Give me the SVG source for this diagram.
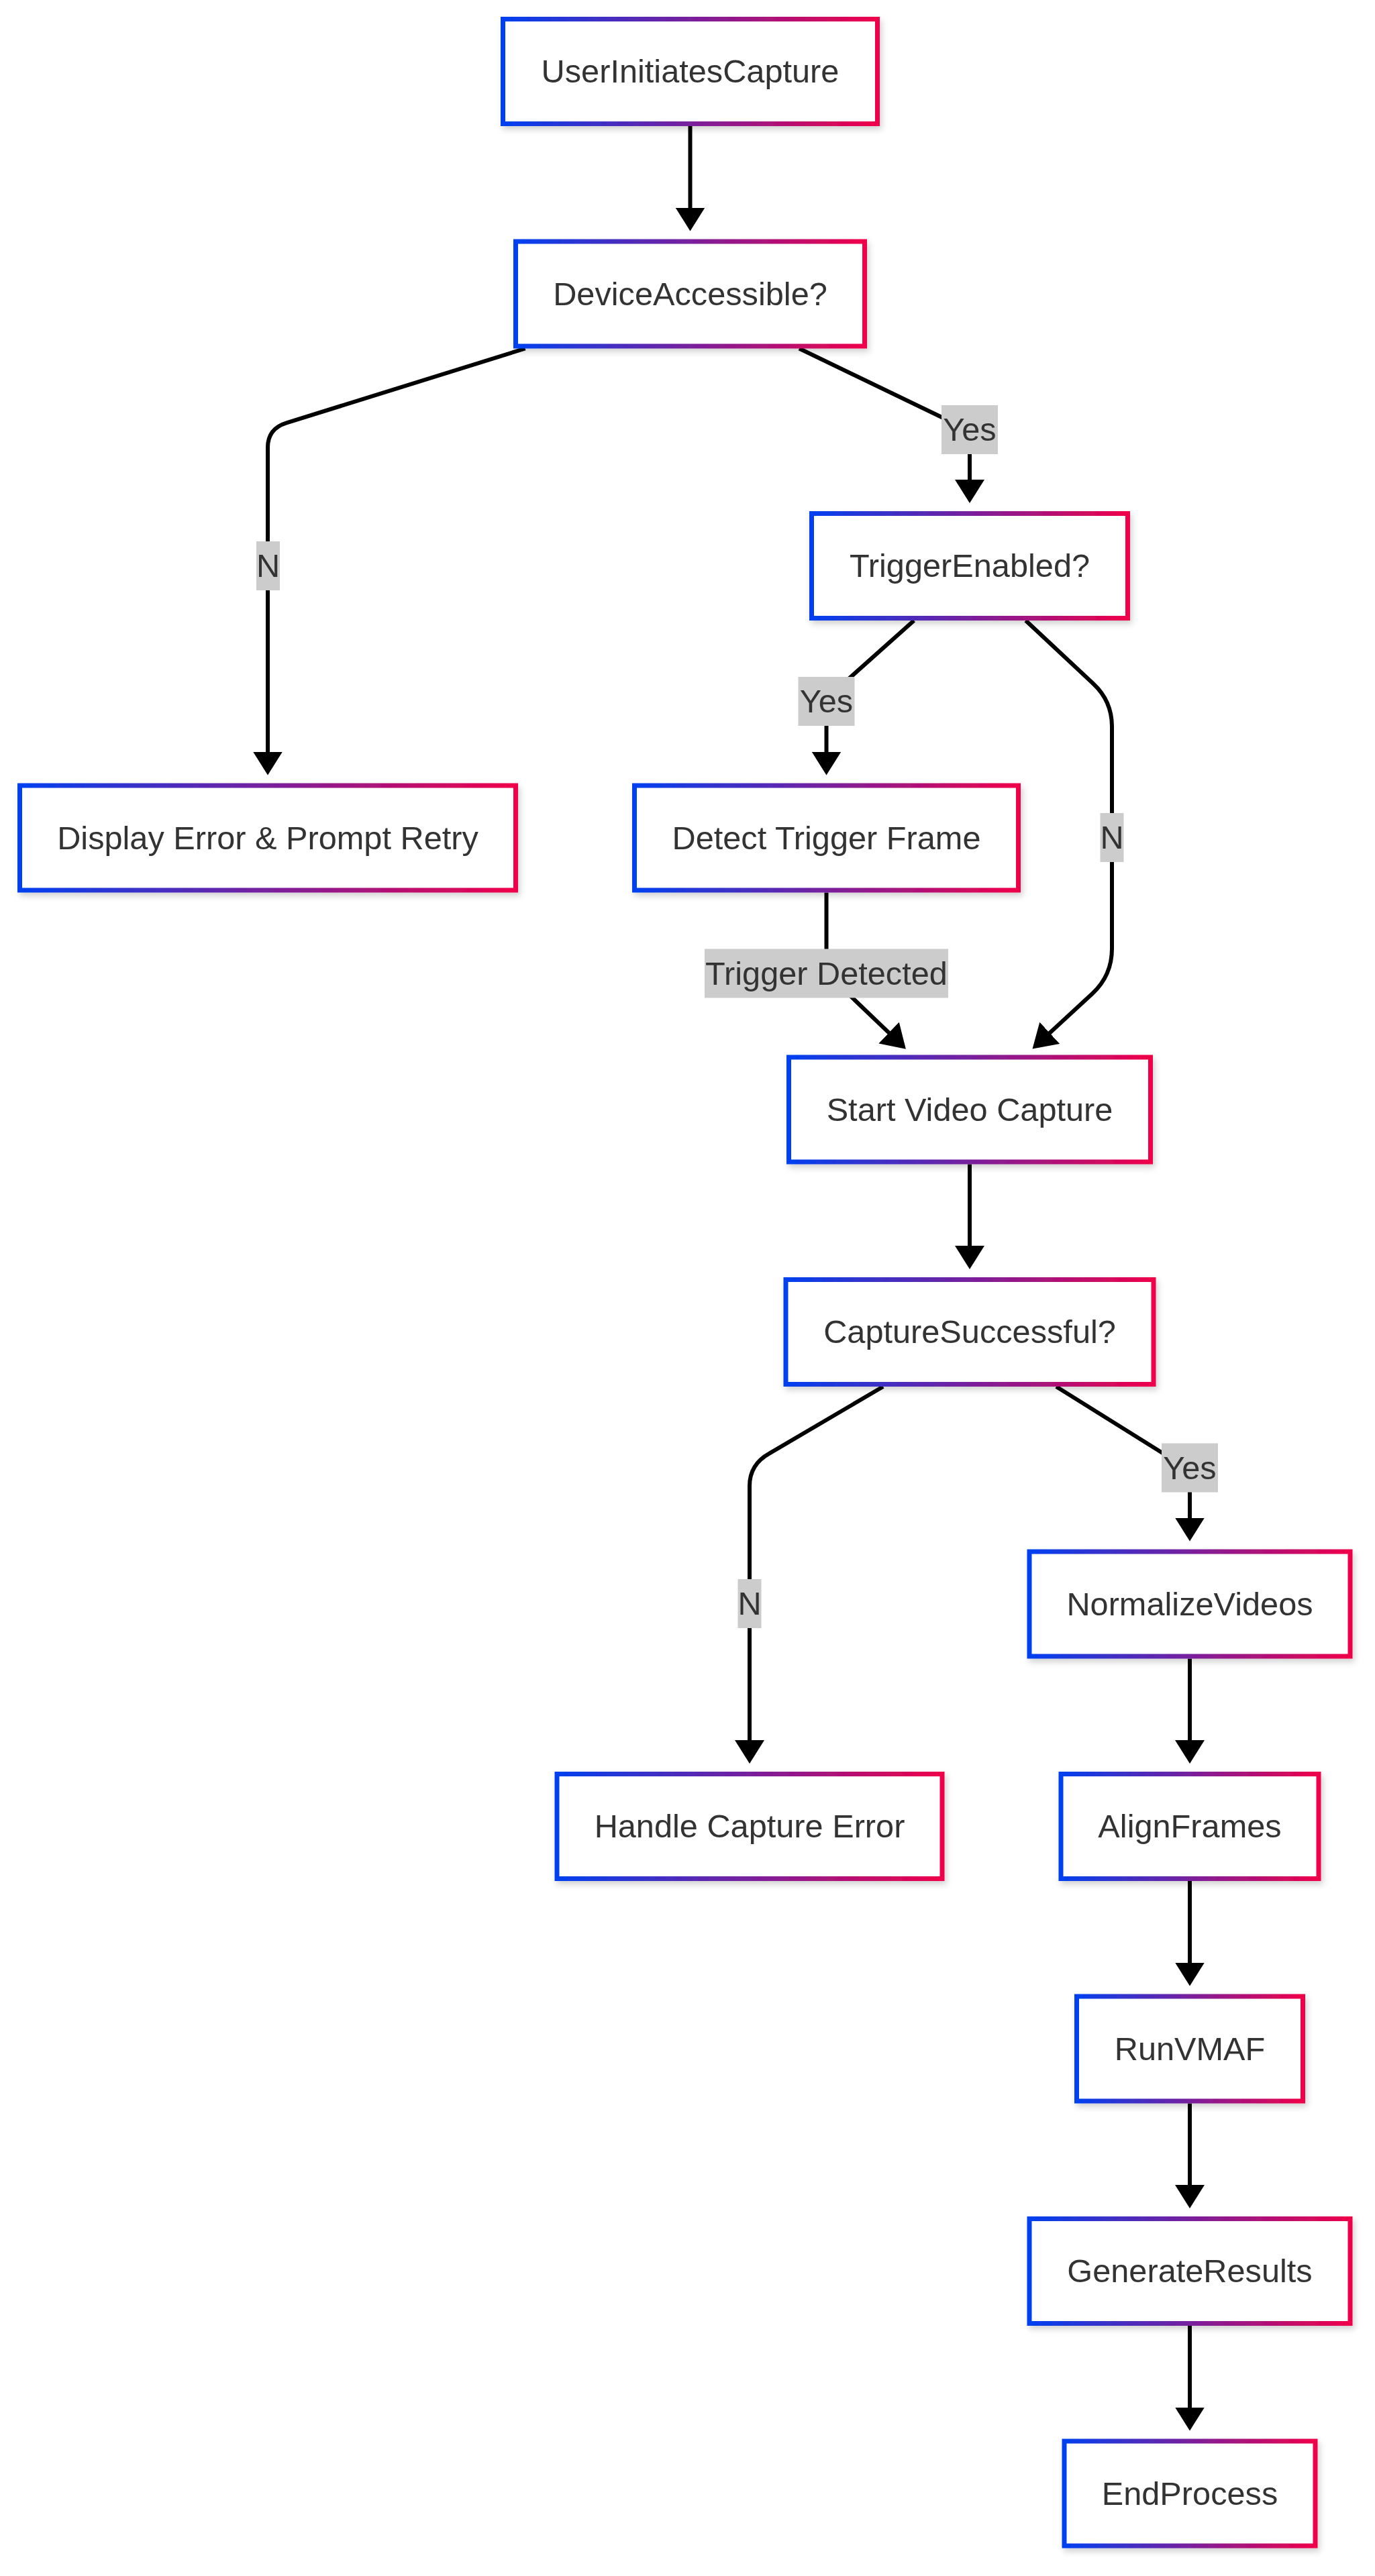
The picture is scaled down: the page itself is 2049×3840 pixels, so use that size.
<svg xmlns="http://www.w3.org/2000/svg" width="2049" height="3840" viewBox="0 0 2049 3840">
  <defs>
    <linearGradient id="borderGrad" x1="0" y1="0" x2="1" y2="0">
      <stop offset="0" stop-color="#0040f0"/>
      <stop offset="1" stop-color="#f0004a"/>
    </linearGradient>
    <filter id="softShadow" x="-10%" y="-20%" width="120%" height="150%">
      <feDropShadow dx="3" dy="5" stdDeviation="5" flood-color="#000" flood-opacity="0.18"/>
    </filter>
    <marker id="arrow" markerUnits="userSpaceOnUse" markerWidth="36" markerHeight="44" refX="1" refY="22" orient="auto">
      <path d="M0,0 L35,22 L0,44 z" fill="#000"/>
    </marker>
    <style>
      .node rect { fill: #fff; stroke: url(#borderGrad); stroke-width: 7; filter: url(#softShadow); }
      .node text, .label text { font-family: "Liberation Sans", Arial, sans-serif; font-size: 48.7px; fill: #333; text-anchor: middle; }
      .edge { fill: none; stroke: #000; stroke-width: 6; marker-end: url(#arrow); }
      .label rect { fill: #cccccc; }
    </style>
  </defs>
  <rect width="2049" height="3840" fill="#fff"/>

  <!-- connectors -->
  <g id="connectors">
    <path class="edge" d="M1028.5,188 L1028.5,310.5"/>
    <path class="edge" d="M782.6,519.5 L427,630.4 Q399,639 399,667 L399,1121.5"/>
    <path class="edge" d="M1191,519.5 L1420,630 Q1445,642 1445,668 L1445,716"/>
    <path class="edge" d="M1362,925 L1250,1025 Q1231.5,1041.8 1231.5,1065 L1231.5,1121.5"/>
    <path class="edge" d="M1528.5,925 L1629,1019 Q1657,1045 1657,1083 L1657,1414 Q1657,1454 1628,1481 L1563.5,1540.5"/>
    <path class="edge" d="M1231.5,1330.5 L1231.5,1420 Q1231.5,1450 1253,1471 L1325.3,1540.2"/>
    <path class="edge" d="M1445,1735.5 L1445,1858"/>
    <path class="edge" d="M1316,2067 L1146.5,2166.6 Q1117,2183 1117,2215 L1117,2595"/>
    <path class="edge" d="M1574,2067 L1750,2177 Q1773,2191 1773,2210 L1773,2263.5"/>
    <path class="edge" d="M1773,2472.5 L1773,2595"/>
    <path class="edge" d="M1773,2804 L1773,2926.5"/>
    <path class="edge" d="M1773,3135.5 L1773,3258"/>
    <path class="edge" d="M1773,3467 L1773,3589.5"/>

    <g class="label"><rect x="382" y="807" width="35" height="73"/><text x="399.5" y="860">N</text></g>
    <g class="label"><rect x="1403" y="604" width="84" height="73"/><text x="1445" y="657">Yes</text></g>
    <g class="label"><rect x="1189.5" y="1009" width="84" height="73"/><text x="1231.5" y="1062">Yes</text></g>
    <g class="label"><rect x="1639.5" y="1212" width="35" height="73"/><text x="1657" y="1265">N</text></g>
    <g class="label"><rect x="1050" y="1414.5" width="363" height="73"/><text x="1231.5" y="1467.5">Trigger Detected</text></g>
    <g class="label"><rect x="1099.5" y="2354" width="35" height="73"/><text x="1117" y="2407">N</text></g>
    <g class="label"><rect x="1731" y="2151.5" width="84" height="73"/><text x="1773" y="2204.5">Yes</text></g>
  </g>

  <!-- nodes -->
  <g id="userInitiatesCapture" class="node"><rect x="749.5" y="28.5" width="558" height="156"/><text x="1028.5" y="123">UserInitiatesCapture</text></g>
  <g id="deviceAccessible" class="node"><rect x="768.5" y="360" width="520" height="156"/><text x="1028.5" y="454.5">DeviceAccessible?</text></g>
  <g id="triggerEnabled" class="node"><rect x="1209.5" y="765.5" width="471" height="156"/><text x="1445" y="860">TriggerEnabled?</text></g>
  <g id="displayError" class="node"><rect x="29.5" y="1171" width="739" height="156"/><text x="399" y="1265.5">Display Error &amp; Prompt Retry</text></g>
  <g id="detectTriggerFrame" class="node"><rect x="945.5" y="1171" width="572" height="156"/><text x="1231.5" y="1265.5">Detect Trigger Frame</text></g>
  <g id="startVideoCapture" class="node"><rect x="1175.5" y="1576" width="539" height="156"/><text x="1445" y="1670.5">Start Video Capture</text></g>
  <g id="captureSuccessful" class="node"><rect x="1171" y="1907.5" width="548" height="156"/><text x="1445" y="2002">CaptureSuccessful?</text></g>
  <g id="handleCaptureError" class="node"><rect x="830" y="2644.5" width="574" height="156"/><text x="1117" y="2739">Handle Capture Error</text></g>
  <g id="normalizeVideos" class="node"><rect x="1534" y="2313" width="478" height="156"/><text x="1773" y="2407.5">NormalizeVideos</text></g>
  <g id="alignFrames" class="node"><rect x="1581" y="2644.5" width="384" height="156"/><text x="1773" y="2739">AlignFrames</text></g>
  <g id="runVMAF" class="node"><rect x="1604.5" y="2976" width="337" height="156"/><text x="1773" y="3070.5">RunVMAF</text></g>
  <g id="generateResults" class="node"><rect x="1534" y="3307.5" width="478" height="156"/><text x="1773" y="3402">GenerateResults</text></g>
  <g id="endProcess" class="node"><rect x="1586" y="3639" width="374" height="156"/><text x="1773" y="3733.5">EndProcess</text></g>
</svg>
